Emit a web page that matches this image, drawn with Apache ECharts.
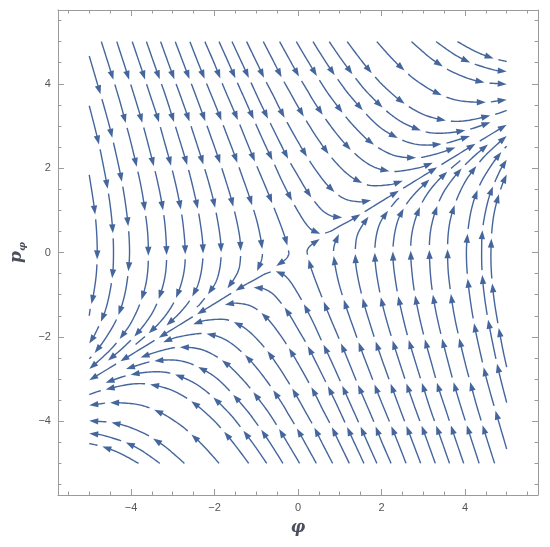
<!DOCTYPE html>
<html><head><meta charset="utf-8">
<script src="https://cdn.jsdelivr.net/npm/echarts@6/dist/echarts.min.js"></script>
<style>html,body{margin:0;padding:0;background:#fff}#c{width:550px;height:547px}</style>
</head><body><div id="c"></div>
<script>
// ---- axis data ----
const axisRange = [-5.75, 5.75];
const majorTicks = [-4, -2, 0, 2, 4];
const minorTicks = [-5.5, -5, -4.5, -3.5, -3, -2.5, -1.5, -1, -0.5, 0.5, 1, 1.5, 2.5, 3, 3.5, 4.5, 5, 5.5];
const xName = 'φ';
const yName = ['p', 'φ'];

// ---- streamlines [phi, p_phi], listed in flow direction ----
const streamsFromTop = [
 [[-4.71,5],[-4.48,4.28],[-4.28,3.63],[-4.12,3.05],[-3.98,2.52],[-3.77,1.62],[-3.65,0.89],[-3.59,0.28],[-3.60,-0.45],[-3.72,-1.03],[-3.99,-1.65],[-4.37,-2.17],[-4.72,-2.52],[-5.0,-2.76]],
 [[-4.34,5],[-4.11,4.30],[-3.91,3.68],[-3.74,3.12],[-3.60,2.61],[-3.38,1.75],[-3.24,1.05],[-3.17,0.47],[-3.15,-0.23],[-3.23,-0.77],[-3.44,-1.34],[-3.76,-1.81],[-4.16,-2.23],[-4.55,-2.56]],
 [[-3.97,5],[-3.74,4.33],[-3.54,3.73],[-3.36,3.19],[-3.22,2.70],[-2.99,1.87],[-2.84,1.20],[-2.75,0.65],[-2.70,0.0],[-2.74,-0.51],[-2.90,-1.03],[-3.14,-1.45],[-3.47,-1.82],[-3.89,-2.18]],
 [[-3.63,5],[-3.40,4.35],[-3.19,3.77],[-3.02,3.25],[-2.87,2.78],[-2.63,1.99],[-2.47,1.35],[-2.36,0.82],[-2.28,0.20],[-2.29,-0.27],[-2.39,-0.75],[-2.58,-1.12],[-2.84,-1.44],[-3.15,-1.73]],
 [[-3.29,5],[-3.06,4.37],[-2.85,3.81],[-2.67,3.31],[-2.52,2.87],[-2.27,2.10],[-2.09,1.49],[-1.97,0.99],[-1.87,0.41],[-1.84,-0.03],[-1.89,-0.46],[-2.02,-0.80],[-2.32,-1.19],[-2.42,-1.29]],
 [[-2.94,5],[-2.71,4.40],[-2.50,3.86],[-2.32,3.38],[-2.16,2.95],[-1.90,2.22],[-1.71,1.64],[-1.57,1.17],[-1.44,0.62],[-1.38,0.22],[-1.38,-0.17],[-1.44,-0.46],[-1.63,-0.78],[-1.69,-0.85]],
 [[-2.59,5],[-2.36,4.42],[-2.15,3.91],[-1.96,3.45],[-1.80,3.04],[-1.53,2.34],[-1.33,1.79],[-1.17,1.34],[-1.01,0.84],[-0.92,0.47],[-0.86,0.12],[-0.86,-0.12],[-0.94,-0.37],[-0.98,-0.44]],
 [[-2.23,5],[-1.99,4.45],[-1.79,3.95],[-1.60,3.51],[-1.43,3.12],[-1.16,2.46],[-0.94,1.94],[-0.76,1.52],[-0.57,1.05],[-0.44,0.72],[-0.33,0.42],[-0.27,0.23],[-0.23,0.06],[-0.22,-0.04],[-0.26,-0.12],[-0.33,-0.19],[-0.45,-0.27],[-0.52,-0.32]],
 [[-1.89,5],[-1.65,4.47],[-1.44,4.00],[-1.25,3.58],[-1.08,3.20],[-0.80,2.58],[-0.56,2.08],[-0.38,1.69],[-0.16,1.26],[0.01,0.96],[0.17,0.71],[0.30,0.56],[0.45,0.46],[0.58,0.45],[0.77,0.50],[0.99,0.62],[1.27,0.77],[1.62,0.98],[2.06,1.25],[2.63,1.59],[3.35,2.03],[4.27,2.59],[5.0,3.03]],
 [[-1.58,5],[-1.34,4.49],[-1.13,4.04],[-0.94,3.63],[-0.77,3.28],[-0.47,2.68],[-0.23,2.21],[-0.02,1.85],[0.22,1.45],[0.42,1.18],[0.63,0.96],[0.90,0.83],[1.06,0.83]],
 [[-1.23,5],[-0.99,4.51],[-0.78,4.08],[-0.58,3.70],[-0.41,3.36],[-0.10,2.80],[0.16,2.36],[0.38,2.02],[0.65,1.66],[0.88,1.43],[1.15,1.26],[1.51,1.20],[1.75,1.24]],
 [[-0.83,5],[-0.59,4.54],[-0.38,4.13],[-0.18,3.78],[0.0,3.46],[0.32,2.93],[0.59,2.53],[0.83,2.22],[1.14,1.90],[1.41,1.71],[1.74,1.59],[2.21,1.61],[2.51,1.70]],
 [[-0.44,5],[-0.20,4.57],[0.02,4.18],[0.22,3.85],[0.40,3.55],[0.73,3.07],[1.02,2.70],[1.28,2.42],[1.62,2.14],[1.92,1.99],[2.31,1.92],[2.90,2.01],[3.23,2.13]],
 [[-0.04,5],[0.20,4.60],[0.42,4.24],[0.62,3.92],[0.81,3.65],[1.16,3.20],[1.46,2.87],[1.73,2.62],[2.11,2.38],[2.45,2.27],[2.90,2.25],[3.36,2.35],[3.77,2.49]],
 [[0.36,5],[0.60,4.62],[0.82,4.29],[1.03,4.00],[1.22,3.75],[1.58,3.34],[1.89,3.03],[2.19,2.82],[2.59,2.63],[2.98,2.55],[3.49,2.58],[4.02,2.73],[4.12,2.76]],
 [[0.75,5],[0.99,4.65],[1.22,4.34],[1.43,4.07],[1.62,3.84],[1.99,3.47],[2.32,3.20],[2.63,3.02],[3.07,2.86],[3.50,2.83],[4.07,2.91],[4.61,3.09]],
 [[1.18,5],[1.42,4.68],[1.65,4.39],[1.86,4.15],[2.06,3.94],[2.44,3.61],[2.79,3.38],[3.12,3.23],[3.60,3.12],[4.06,3.13],[4.70,3.27],[5.0,3.37]],
 [[1.89,5],[2.13,4.73],[2.36,4.49],[2.58,4.29],[2.79,4.11],[3.19,3.85],[3.57,3.68],[3.93,3.59],[4.46,3.56],[4.82,3.60],[5.0,3.62]],
 [[2.72,5],[2.97,4.78],[3.20,4.59],[3.43,4.44],[3.64,4.31],[4.07,4.13],[4.47,4.03],[4.87,4.00],[5.0,3.99]],
 [[3.31,5],[3.56,4.82],[3.79,4.67],[4.02,4.55],[4.25,4.46],[4.69,4.33],[4.90,4.30],[5.0,4.29]],
 [[3.82,5],[4.07,4.86],[4.31,4.74],[4.54,4.65],[4.77,4.58],[5.0,4.53]]
];
const streamsFromBottom = [
 [[4.71,-5],[4.48,-4.28],[4.28,-3.63],[4.12,-3.05],[3.98,-2.52],[3.77,-1.62],[3.65,-0.89],[3.59,-0.28],[3.60,0.45],[3.72,1.03],[3.99,1.65],[4.37,2.17],[4.72,2.52],[5.0,2.76]],
 [[4.34,-5],[4.11,-4.30],[3.91,-3.68],[3.74,-3.12],[3.60,-2.61],[3.38,-1.75],[3.24,-1.05],[3.17,-0.47],[3.15,0.23],[3.23,0.77],[3.44,1.34],[3.76,1.81],[4.16,2.23],[4.55,2.56]],
 [[3.97,-5],[3.74,-4.33],[3.54,-3.73],[3.36,-3.19],[3.22,-2.70],[2.99,-1.87],[2.84,-1.20],[2.75,-0.65],[2.70,0.0],[2.74,0.51],[2.90,1.03],[3.14,1.45],[3.47,1.82],[3.89,2.18]],
 [[3.63,-5],[3.40,-4.35],[3.19,-3.77],[3.02,-3.25],[2.87,-2.78],[2.63,-1.99],[2.47,-1.35],[2.36,-0.82],[2.28,-0.20],[2.29,0.27],[2.39,0.75],[2.58,1.12],[2.84,1.44],[3.15,1.73]],
 [[3.29,-5],[3.06,-4.37],[2.85,-3.81],[2.67,-3.31],[2.52,-2.87],[2.27,-2.10],[2.09,-1.49],[1.97,-0.99],[1.87,-0.41],[1.84,0.03],[1.89,0.46],[2.02,0.80],[2.32,1.19],[2.42,1.29]],
 [[2.94,-5],[2.71,-4.40],[2.50,-3.86],[2.32,-3.38],[2.16,-2.95],[1.90,-2.22],[1.71,-1.64],[1.57,-1.17],[1.44,-0.62],[1.38,-0.22],[1.38,0.17],[1.44,0.46],[1.63,0.78],[1.69,0.85]],
 [[2.59,-5],[2.36,-4.42],[2.15,-3.91],[1.96,-3.45],[1.80,-3.04],[1.53,-2.34],[1.33,-1.79],[1.17,-1.34],[1.01,-0.84],[0.92,-0.47],[0.86,-0.12],[0.86,0.12],[0.94,0.37],[0.98,0.44]],
 [[2.23,-5],[1.99,-4.45],[1.79,-3.95],[1.60,-3.51],[1.43,-3.12],[1.16,-2.46],[0.94,-1.94],[0.76,-1.52],[0.57,-1.05],[0.44,-0.72],[0.33,-0.42],[0.27,-0.23],[0.23,-0.06],[0.22,0.04],[0.26,0.12],[0.33,0.19],[0.45,0.27],[0.52,0.32]],
 [[1.89,-5],[1.65,-4.47],[1.44,-4.00],[1.25,-3.58],[1.08,-3.20],[0.80,-2.58],[0.56,-2.08],[0.38,-1.69],[0.16,-1.26],[-0.01,-0.96],[-0.17,-0.71],[-0.30,-0.56],[-0.45,-0.46],[-0.58,-0.45],[-0.77,-0.50],[-0.99,-0.62],[-1.27,-0.77],[-1.62,-0.98],[-2.06,-1.25],[-2.63,-1.59],[-3.35,-2.03],[-4.27,-2.59],[-5.0,-3.03]],
 [[1.58,-5],[1.34,-4.49],[1.13,-4.04],[0.94,-3.63],[0.77,-3.28],[0.47,-2.68],[0.23,-2.21],[0.02,-1.85],[-0.22,-1.45],[-0.42,-1.18],[-0.63,-0.96],[-0.90,-0.83],[-1.06,-0.83]],
 [[1.23,-5],[0.99,-4.51],[0.78,-4.08],[0.58,-3.70],[0.41,-3.36],[0.10,-2.80],[-0.16,-2.36],[-0.38,-2.02],[-0.65,-1.66],[-0.88,-1.43],[-1.15,-1.26],[-1.51,-1.20],[-1.75,-1.24]],
 [[0.83,-5],[0.59,-4.54],[0.38,-4.13],[0.18,-3.78],[0.0,-3.46],[-0.32,-2.93],[-0.59,-2.53],[-0.83,-2.22],[-1.14,-1.90],[-1.41,-1.71],[-1.74,-1.59],[-2.21,-1.61],[-2.51,-1.70]],
 [[0.44,-5],[0.20,-4.57],[-0.02,-4.18],[-0.22,-3.85],[-0.40,-3.55],[-0.73,-3.07],[-1.02,-2.70],[-1.28,-2.42],[-1.62,-2.14],[-1.92,-1.99],[-2.31,-1.92],[-2.90,-2.01],[-3.23,-2.13]],
 [[0.04,-5],[-0.20,-4.60],[-0.42,-4.24],[-0.62,-3.92],[-0.81,-3.65],[-1.16,-3.20],[-1.46,-2.87],[-1.73,-2.62],[-2.11,-2.38],[-2.45,-2.27],[-2.90,-2.25],[-3.36,-2.35],[-3.77,-2.49]],
 [[-0.36,-5],[-0.60,-4.62],[-0.82,-4.29],[-1.03,-4.00],[-1.22,-3.75],[-1.58,-3.34],[-1.89,-3.03],[-2.19,-2.82],[-2.59,-2.63],[-2.98,-2.55],[-3.49,-2.58],[-4.02,-2.73],[-4.12,-2.76]],
 [[-0.75,-5],[-0.99,-4.65],[-1.22,-4.34],[-1.43,-4.07],[-1.62,-3.84],[-1.99,-3.47],[-2.32,-3.20],[-2.63,-3.02],[-3.07,-2.86],[-3.50,-2.83],[-4.07,-2.91],[-4.61,-3.09]],
 [[-1.18,-5],[-1.42,-4.68],[-1.65,-4.39],[-1.86,-4.15],[-2.06,-3.94],[-2.44,-3.61],[-2.79,-3.38],[-3.12,-3.23],[-3.60,-3.12],[-4.06,-3.13],[-4.70,-3.27],[-5.0,-3.37]],
 [[-1.89,-5],[-2.13,-4.73],[-2.36,-4.49],[-2.58,-4.29],[-2.79,-4.11],[-3.19,-3.85],[-3.57,-3.68],[-3.93,-3.59],[-4.46,-3.56],[-4.82,-3.60],[-5.0,-3.62]],
 [[-2.72,-5],[-2.97,-4.78],[-3.20,-4.59],[-3.43,-4.44],[-3.64,-4.31],[-4.07,-4.13],[-4.47,-4.03],[-4.87,-4.00],[-5.0,-3.99]],
 [[-3.31,-5],[-3.56,-4.82],[-3.79,-4.67],[-4.02,-4.55],[-4.25,-4.46],[-4.69,-4.33],[-4.90,-4.30],[-5.0,-4.29]],
 [[-3.82,-5],[-4.07,-4.86],[-4.31,-4.74],[-4.54,-4.65],[-4.77,-4.58],[-5.0,-4.53]]
];
const streamsFromLeft = [
 [[-5,4.66],[-4.79,3.95],[-4.60,3.30],[-4.45,2.73],[-4.23,1.74],[-4.10,0.92],[-4.04,0.25],[-4.05,-0.31],[-4.15,-1.0],[-4.34,-1.57],[-4.62,-2.05],[-4.83,-2.33],[-4.95,-2.47],[-5.0,-2.52]],
 [[-5,3.48],[-4.84,2.86],[-4.71,2.30],[-4.53,1.34],[-4.44,0.55],[-4.42,-0.11],[-4.46,-0.67],[-4.61,-1.36],[-4.86,-1.93],[-5.0,-2.16]],
 [[-5,1.84],[-4.86,0.91],[-4.81,0.14],[-4.83,-0.50],[-4.91,-1.06],[-4.97,-1.30],[-5.0,-1.5]]
];
const streamsFromRight = [
 [[5,-4.66],[4.79,-3.95],[4.60,-3.30],[4.45,-2.73],[4.23,-1.74],[4.10,-0.92],[4.04,-0.25],[4.05,0.31],[4.15,1.0],[4.34,1.57],[4.62,2.05],[4.83,2.33],[4.95,2.47],[5.0,2.52]],
 [[5,-3.56],[4.84,-2.94],[4.71,-2.37],[4.52,-1.40],[4.42,-0.60],[4.40,0.06],[4.43,0.62],[4.58,1.32],[4.82,1.90],[4.92,2.07],[5.0,2.2]],
 [[5,-2.72],[4.88,-2.16],[4.71,-1.20],[4.63,-0.41],[4.63,0.26],[4.68,0.82],[4.79,1.30],[4.94,1.73],[5.0,1.85]]
];

// ---- rendering ----
const allStreams = streamsFromTop.concat(streamsFromBottom, streamsFromLeft, streamsFromRight);
const COLOR = '#45669c';
const ARROW_LEN = 40, GAP = 5, HEAD_LEN = 9, HEAD_HALF = 3.2;

function densify(px) {
  const out = [], n = px.length;
  for (let i = 0; i < n - 1; i++) {
    const p0 = px[Math.max(i - 1, 0)], p1 = px[i], p2 = px[i + 1], p3 = px[Math.min(i + 2, n - 1)];
    const steps = 12;
    for (let k = 0; k < steps; k++) {
      const t = k / steps, t2 = t * t, t3 = t2 * t;
      const f = j => 0.5 * (2 * p1[j] + (-p0[j] + p2[j]) * t + (2 * p0[j] - 5 * p1[j] + 4 * p2[j] - p3[j]) * t2 + (-p0[j] + 3 * p1[j] - 3 * p2[j] + p3[j]) * t3);
      out.push([f(0), f(1)]);
    }
  }
  out.push(px[n - 1].slice());
  return out;
}
function renderItem(params, api) {
  const line = allStreams[api.value(2)];
  const px = line.map(d => api.coord(d));
  const pts = densify(px);
  const cum = [0];
  for (let i = 1; i < pts.length; i++) cum.push(cum[i - 1] + Math.hypot(pts[i][0] - pts[i - 1][0], pts[i][1] - pts[i - 1][1]));
  const total = cum[cum.length - 1];
  const at = s => {
    if (s <= 0) return pts[0];
    if (s >= total) return pts[pts.length - 1];
    let i = 1; while (cum[i] < s) i++;
    const r = (s - cum[i - 1]) / ((cum[i] - cum[i - 1]) || 1);
    return [pts[i - 1][0] + r * (pts[i][0] - pts[i - 1][0]), pts[i - 1][1] + r * (pts[i][1] - pts[i - 1][1])];
  };
  const slice = (a, b) => {
    const res = [at(a)];
    for (let i = 0; i < pts.length; i++) if (cum[i] > a && cum[i] < b) res.push(pts[i]);
    res.push(at(b));
    return res;
  };
  const children = [];
  let s = 0;
  while (s < total - 1.5) {
    const e = Math.min(s + ARROW_LEN, total);
    const len = e - s;
    if (len >= 14) {
      children.push({ type: 'polyline', shape: { points: slice(s, e - 5) }, style: { stroke: COLOR, lineWidth: 1.4, fill: null } });
      const tip = at(e), back = at(e - HEAD_LEN);
      let dx = tip[0] - back[0], dy = tip[1] - back[1];
      const d = Math.hypot(dx, dy) || 1; dx /= d; dy /= d;
      const bx = tip[0] - dx * HEAD_LEN, by = tip[1] - dy * HEAD_LEN;
      children.push({ type: 'polygon', shape: { points: [tip, [bx - dy * HEAD_HALF, by + dx * HEAD_HALF], [bx + dy * HEAD_HALF, by - dx * HEAD_HALF]] }, style: { fill: COLOR } });
    } else {
      children.push({ type: 'polyline', shape: { points: slice(s, e) }, style: { stroke: COLOR, lineWidth: 1.4, fill: null } });
    }
    s = e + GAP;
  }
  return { type: 'group', children };
}

const frameColor = '#9b9b9b';
const minus = v => (v < 0 ? '\u2212' + Math.abs(v) : String(v));
const labelStyle = { color: '#555', fontSize: 11, fontFamily: 'Liberation Sans, Arial, sans-serif' };
function axisPair(pos, showLabel) {
  const base = { type: 'value', min: axisRange[0], max: axisRange[1], position: pos, splitLine: { show: false } };
  const major = Object.assign({}, base, {
    axisLine: { show: true, onZero: false, lineStyle: { color: frameColor, width: 1 } },
    axisTick: { show: true, inside: true, length: 6, customValues: majorTicks, lineStyle: { color: frameColor } },
    axisLabel: showLabel ? Object.assign({ show: true, customValues: majorTicks, formatter: minus, margin: 7 }, labelStyle) : { show: false }
  });
  const minor = Object.assign({}, base, {
    axisLine: { show: false, onZero: false },
    axisTick: { show: true, inside: true, length: 3.5, customValues: minorTicks, lineStyle: { color: frameColor } },
    axisLabel: { show: false }
  });
  return [major, minor];
}
const xAxes = axisPair('bottom', true).concat(axisPair('top', false));
const yAxes = axisPair('left', true).concat(axisPair('right', false));
xAxes[0].name = xName;
xAxes[0].nameLocation = 'middle';
xAxes[0].nameGap = 25;
xAxes[0].nameTextStyle = { color: '#4a4f5a', fontSize: 16, fontWeight: 'bold', fontStyle: 'italic', fontFamily: 'DejaVu Serif, serif' };
yAxes[0].name = '{p|' + yName[0] + '}{s|' + yName[1] + '}';
yAxes[0].nameLocation = 'middle';
yAxes[0].nameRotate = 90;
yAxes[0].nameGap = 28;
yAxes[0].nameTextStyle = { rich: {
  p: { color: '#4a4f5a', fontSize: 17, fontWeight: 'bold', fontStyle: 'italic', fontFamily: 'DejaVu Serif, serif', lineHeight: 22, verticalAlign: 'middle' },
  s: { color: '#4a4f5a', fontSize: 10, fontWeight: 'bold', fontStyle: 'italic', fontFamily: 'DejaVu Serif, serif', lineHeight: 10, verticalAlign: 'bottom' }
} };

const chart = echarts.init(document.getElementById('c'), null, { renderer: 'canvas' });
chart.setOption({
  animation: false,
  backgroundColor: '#fff',
  grid: { left: 55, right: 12, top: 10, bottom: 52 },
  xAxis: xAxes,
  yAxis: yAxes,
  series: [{
    type: 'custom',
    coordinateSystem: 'cartesian2d',
    xAxisIndex: 0, yAxisIndex: 0,
    silent: true, clip: false,
    encode: { x: 0, y: 1 },
    data: allStreams.map((l, i) => [l[0][0], l[0][1], i]),
    renderItem: renderItem
  }]
});
</script></body></html>
